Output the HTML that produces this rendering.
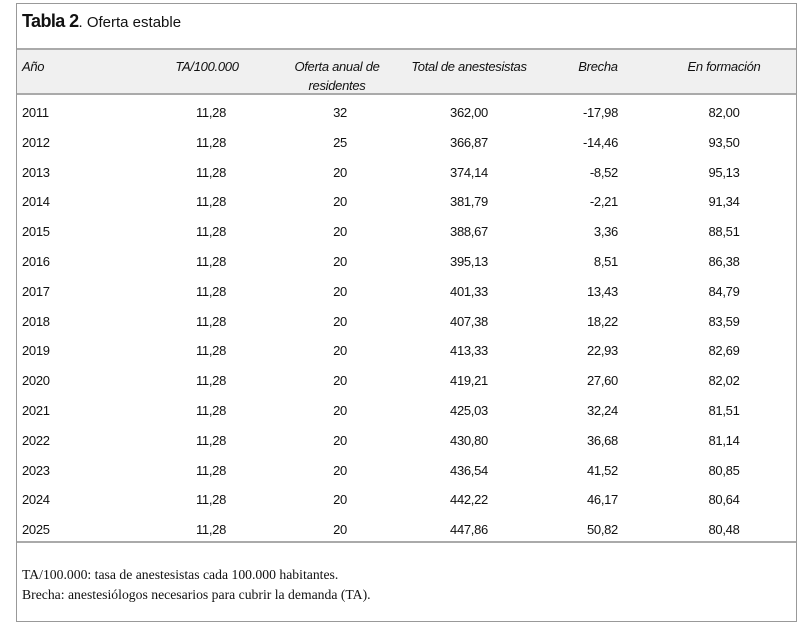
<!DOCTYPE html>
<html><head><meta charset="utf-8"><style>
body{margin:0;width:800px;height:629px;background:#fff;font-family:"Liberation Sans Narrow","Liberation Sans",sans-serif;color:#111;position:relative;overflow:hidden}
.frame{position:absolute;left:16px;top:3px;width:779px;height:617px;border:1px solid #999}
.t{position:absolute;font-size:13px;white-space:nowrap;letter-spacing:-0.3px}
.c{transform:translateX(-50%);text-align:center}
.r{transform:translateX(-100%)}
.i{font-style:italic}
.hd{position:absolute;left:17px;width:779px;top:48px;height:47px;background:#f0f0f0;border-top:2px solid #aaa;border-bottom:2px solid #aaa;box-sizing:border-box}
.bl{position:absolute;left:17px;width:779px;top:541px;height:2px;background:#aaa}
.note{position:absolute;left:22px;font-family:"Liberation Serif",serif;font-size:13.7px}
</style></head><body>
<div class="frame"></div>
<div class="t" style="left:22px;top:11px;font-size:18px;letter-spacing:-0.6px"><b>Tabla 2</b><span style="font-size:15px;letter-spacing:0">. Oferta estable</span></div>
<div class="hd"></div>
<div class="t i" style="left:22px;top:59px">Año</div>
<div class="t i c" style="left:207px;top:59px">TA/100.000</div>
<div class="t i c" style="left:337px;top:57px;line-height:19px">Oferta anual de<br>residentes</div>
<div class="t i c" style="left:469px;top:59px">Total de anestesistas</div>
<div class="t i c" style="left:598px;top:59px">Brecha</div>
<div class="t i c" style="left:724px;top:59px">En formación</div>
<div id="rows"></div>
<div class="bl"></div>
<div class="note" style="top:567px">TA/100.000: tasa de anestesistas cada 100.000 habitantes.</div>
<div class="note" style="top:587px">Brecha: anestesiólogos necesarios para cubrir la demanda (TA).</div>
<script>
var d=[["2011","32","362,00","-17,98","82,00"],["2012","25","366,87","-14,46","93,50"],["2013","20","374,14","-8,52","95,13"],["2014","20","381,79","-2,21","91,34"],["2015","20","388,67","3,36","88,51"],["2016","20","395,13","8,51","86,38"],["2017","20","401,33","13,43","84,79"],["2018","20","407,38","18,22","83,59"],["2019","20","413,33","22,93","82,69"],["2020","20","419,21","27,60","82,02"],["2021","20","425,03","32,24","81,51"],["2022","20","430,80","36,68","81,14"],["2023","20","436,54","41,52","80,85"],["2024","20","442,22","46,17","80,64"],["2025","20","447,86","50,82","80,48"]];
var h="";d.forEach(function(r,i){var y=105+i*29.8;
h+='<div class="t" style="left:22px;top:'+y+'px">'+r[0]+'</div>'+
'<div class="t c" style="left:211px;top:'+y+'px">11,28</div>'+
'<div class="t c" style="left:340px;top:'+y+'px">'+r[1]+'</div>'+
'<div class="t c" style="left:469px;top:'+y+'px">'+r[2]+'</div>'+
'<div class="t r" style="left:618px;top:'+y+'px">'+r[3]+'</div>'+
'<div class="t c" style="left:724px;top:'+y+'px">'+r[4]+'</div>';});
document.getElementById("rows").innerHTML=h;
</script>
</body></html>
